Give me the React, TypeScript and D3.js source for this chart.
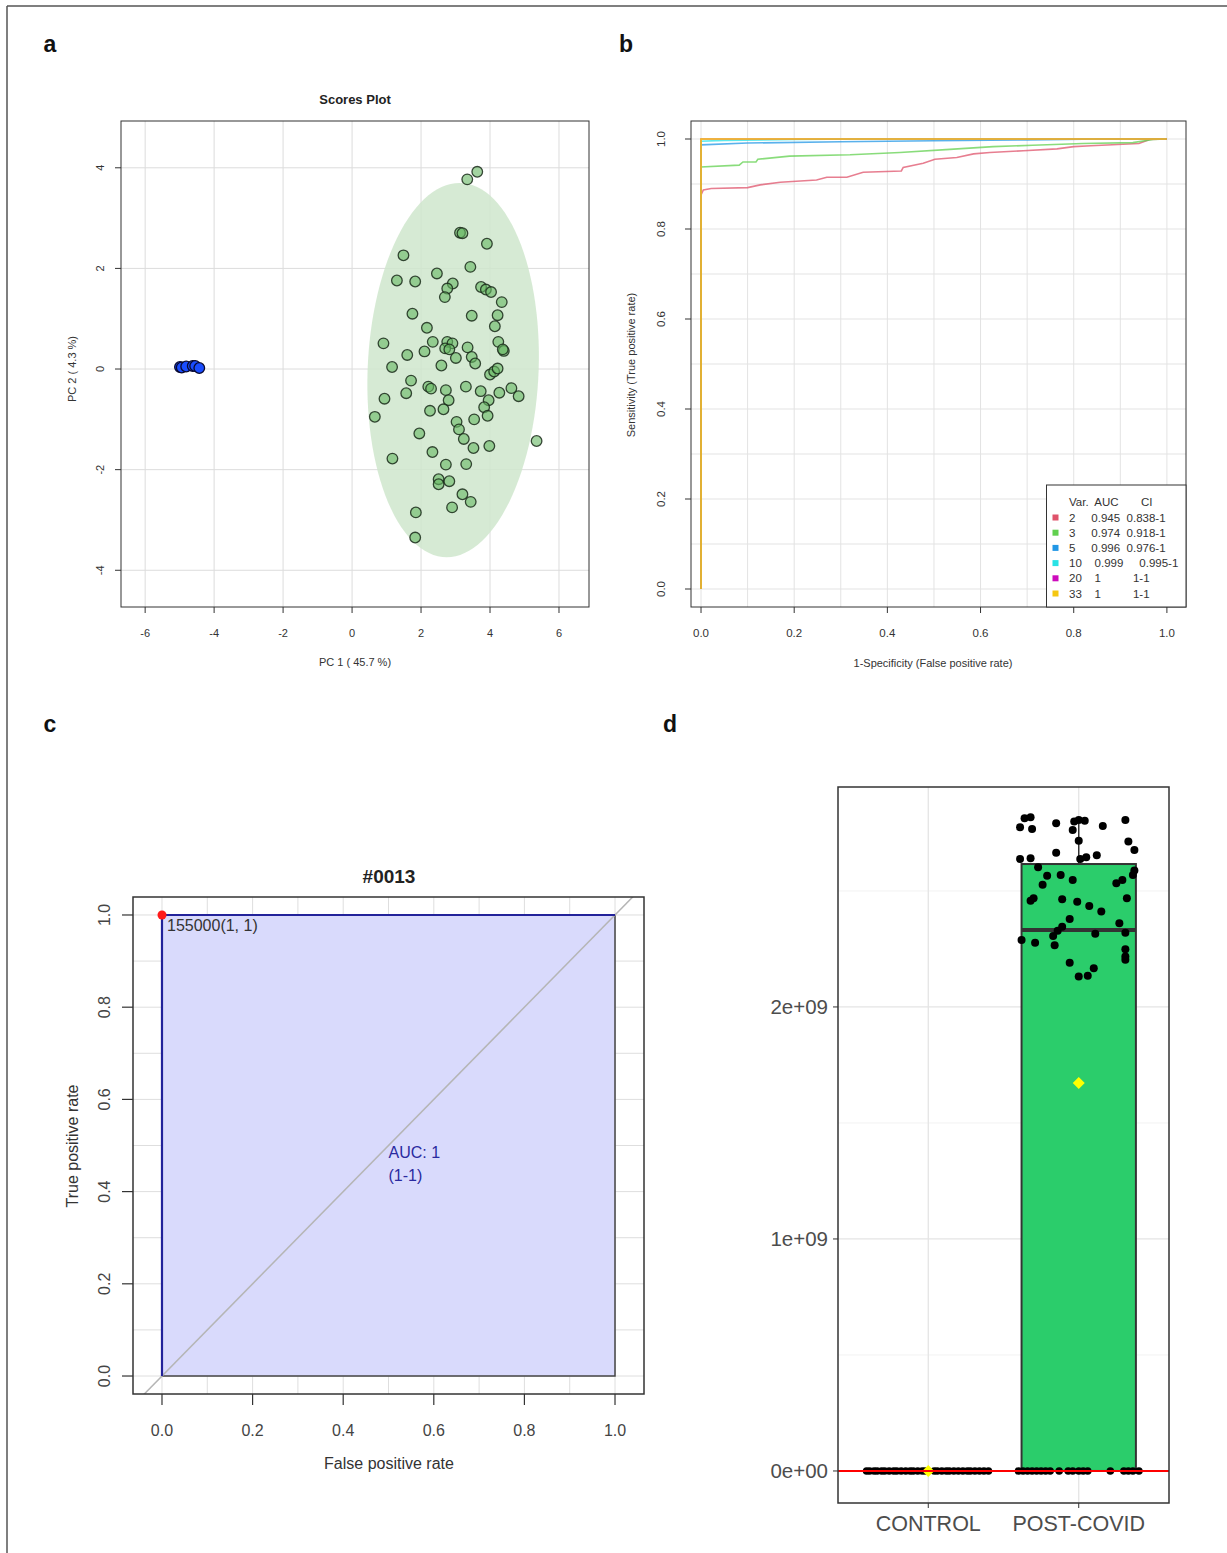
import React from 'react';
import * as d3 from 'd3';

const FONT = "'Liberation Sans', Arial, Helvetica, sans-serif";

// ---------- Panel a : PCA scores ----------
const pcaTicksX = [-6, -4, -2, 0, 2, 4, 6];
const pcaTicksY = [-4, -2, 0, 2, 4];
const controlScores: [number, number][] = [
  [-4.99, 0.04], [-4.94, 0.03], [-4.81, 0.05], [-4.62, 0.06], [-4.55, 0.06], [-4.43, 0.02],
];
const postCovidScores: [number, number][] = [
  [3.63, 3.92], [3.34, 3.77], [3.13, 2.71], [3.2, 2.7], [3.91, 2.49], [1.49, 2.26], [3.43, 2.03],
  [2.46, 1.9], [1.3, 1.76], [1.83, 1.74], [2.92, 1.7], [2.76, 1.6], [3.74, 1.63], [3.88, 1.58],
  [4.03, 1.53], [2.69, 1.43], [4.34, 1.33], [1.75, 1.1], [3.47, 1.06], [4.22, 1.07], [4.14, 0.85],
  [2.17, 0.82], [0.91, 0.51], [2.34, 0.54], [2.76, 0.54], [2.91, 0.51], [2.7, 0.41], [2.82, 0.39],
  [3.35, 0.43], [4.24, 0.54], [4.4, 0.36], [4.37, 0.39], [1.6, 0.28], [2.1, 0.35], [3.01, 0.22],
  [3.47, 0.24], [3.57, 0.11], [1.16, 0.04], [2.59, 0.07], [4.0, -0.11], [4.12, -0.05], [4.22, 0.01],
  [1.71, -0.23], [2.21, -0.35], [2.29, -0.39], [2.72, -0.42], [3.3, -0.35], [3.73, -0.44],
  [4.27, -0.47], [4.62, -0.38], [4.83, -0.54], [1.57, -0.48], [0.94, -0.59], [2.8, -0.62],
  [3.96, -0.62], [3.83, -0.76], [2.26, -0.83], [2.65, -0.8], [3.93, -0.93], [0.66, -0.95],
  [3.54, -1.0], [3.03, -1.05], [3.1, -1.2], [1.95, -1.28], [3.24, -1.39], [3.52, -1.57],
  [3.98, -1.53], [5.35, -1.43], [2.33, -1.65], [1.17, -1.78], [2.72, -1.9], [3.31, -1.89],
  [2.51, -2.19], [2.51, -2.29], [2.82, -2.23], [3.2, -2.49], [3.44, -2.64], [2.9, -2.75],
  [1.85, -2.85], [1.83, -3.35],
];
const ellipseCenter = [2.93, -0.02];
const ellipseRadii = [2.48, 3.72];

// ---------- Panel b : multivariate ROC ----------
const rocTicks = [0, 0.2, 0.4, 0.6, 0.8, 1.0];
const rocGrid = d3.range(0, 11).map((i) => i / 10);
const roc2: [number, number][] = [
  [0, 0], [0, 0.876], [0.005, 0.887], [0.022, 0.89], [0.1, 0.892], [0.127, 0.898], [0.17, 0.904],
  [0.248, 0.909], [0.27, 0.915], [0.313, 0.915], [0.348, 0.926], [0.43, 0.929], [0.434, 0.937],
  [0.477, 0.946], [0.502, 0.955], [0.549, 0.959], [0.585, 0.967], [0.62, 0.97], [0.692, 0.974],
  [0.764, 0.978], [0.8, 0.983], [0.837, 0.985], [0.94, 0.99], [0.963, 0.999], [1, 1],
];
const roc3: [number, number][] = [
  [0, 0], [0, 0.938], [0.082, 0.942], [0.09, 0.949], [0.118, 0.949], [0.122, 0.955], [0.19, 0.962],
  [0.32, 0.965], [0.427, 0.97], [0.534, 0.977], [0.627, 0.983], [0.712, 0.986], [0.82, 0.99],
  [0.927, 0.992], [0.97, 0.999], [1, 1],
];
const roc5: [number, number][] = [
  [0, 0], [0, 0.987], [0.1, 0.991], [0.3, 0.994], [0.5, 0.996], [0.7, 0.998], [0.86, 1], [1, 1],
];
const roc10: [number, number][] = [
  [0, 0], [0, 0.995], [0.05, 0.997], [0.2, 0.999], [0.35, 1], [1, 1],
];
const roc20: [number, number][] = [[0, 0], [0, 1], [1, 1]];
const roc33: [number, number][] = [[0, 0], [0, 1], [1, 1]];
const rocSeries = [roc2, roc3, roc5, roc10, roc20, roc33];
const rocColors = ['#DF536B', '#61D04F', '#2297E6', '#28E2E5', '#CD0BBC', '#F5C710'];
const legendHeader = 'Var.  AUC       CI';
const legendRows = [
  '2     0.945  0.838-1',
  '3     0.974  0.918-1',
  '5     0.996  0.976-1',
  '10    0.999     0.995-1',
  '20    1          1-1',
  '33    1          1-1',
];

// ---------- Panel c : single ROC ----------
const rocSingle: [number, number][] = [[0, 0], [0, 1], [1, 1]];
const rocSingleArea: [number, number][] = [[0, 0], [0, 1], [1, 1], [1, 0]];
const bestThreshold = '155000(1, 1)';
const aucText = ['AUC: 1', '(1-1)'];

// ---------- Panel d : box plot ----------
const groups = ['CONTROL', 'POST-COVID'];
const yTicksD = [0, 1, 2];
const yTickLabelsD = ['0e+00', '1e+09', '2e+09'];
const yMinorD = [0.5, 1.5, 2.5];
const boxQ1 = [0, 0];
const boxMedian = [0, 2.332];
const boxQ3 = [0, 2.616];
const boxWhiskerHigh = [0, 2.79];
const groupMean = [0, 1.672];
const controlJitter = [
  -0.41, -0.39, -0.36, -0.34, -0.31, -0.29, -0.26, -0.23, -0.21, -0.18, -0.15, -0.12, -0.1, -0.07,
  -0.04, -0.02, 0.04, 0.06, 0.09, 0.12, 0.14, 0.17, 0.2, 0.23, 0.26, 0.28, 0.31, 0.34, 0.37, 0.4,
];
const controlValues = controlJitter.map(() => 0);
const postZeroJitter = [
  -0.4, -0.37, -0.34, -0.31, -0.28, -0.25, -0.22, -0.19, -0.13, -0.07, -0.04, 0.0, 0.03, 0.06,
  0.21, 0.3, 0.33, 0.36, 0.4,
];
const postHigh: [number, number][] = [
  [-0.36, 2.813], [-0.32, 2.818], [-0.39, 2.775], [-0.31, 2.767], [-0.15, 2.792], [-0.03, 2.799],
  [0.0, 2.806], [0.04, 2.803], [-0.04, 2.763], [0.16, 2.78], [0.31, 2.806], [0.0, 2.716],
  [0.33, 2.713], [0.37, 2.677], [-0.15, 2.665], [-0.39, 2.638], [-0.32, 2.641], [0.01, 2.638],
  [0.05, 2.645], [0.12, 2.654], [-0.27, 2.602], [-0.21, 2.565], [-0.12, 2.569], [-0.04, 2.547],
  [-0.24, 2.527], [0.25, 2.533], [0.29, 2.547], [0.37, 2.588], [0.36, 2.569], [-0.32, 2.458],
  [-0.3, 2.469], [-0.11, 2.464], [-0.01, 2.453], [0.07, 2.435], [0.15, 2.411], [0.32, 2.469],
  [-0.06, 2.379], [-0.11, 2.346], [-0.14, 2.328], [-0.17, 2.306], [0.27, 2.361], [0.31, 2.32],
  [-0.38, 2.289], [-0.29, 2.277], [-0.16, 2.266], [0.11, 2.315], [0.31, 2.249], [0.31, 2.217],
  [-0.06, 2.191], [0.1, 2.167], [0.06, 2.135], [0.0, 2.131], [0.31, 2.203],
];

function PanelA() {
  const x = d3.scaleLinear().domain([-6.7, 6.87]).range([121, 589]);
  const y = d3.scaleLinear().domain([-4.73, 4.93]).range([607, 121]);
  const [cx, cy] = ellipseCenter;
  const [rx, ry] = ellipseRadii;
  const ell = d3.range(0, 121).map((i) => {
    const t = (i / 120) * Math.PI * 2;
    const px = cx + rx * Math.cos(t) + 0.05 * ry * Math.sin(t);
    const py = cy + ry * Math.sin(t);
    return [x(px), y(py)] as [number, number];
  });
  const line = d3.line();
  return (
    <g fontFamily={FONT}>
      <text x={355} y={104} textAnchor="middle" fontSize={13} fontWeight="bold" fill="#222">Scores Plot</text>
      {pcaTicksX.map((t) => (
        <line key={'gx' + t} x1={x(t)} x2={x(t)} y1={121} y2={607} stroke="#dcdcdc" strokeWidth={1} />
      ))}
      {pcaTicksY.map((t) => (
        <line key={'gy' + t} x1={121} x2={589} y1={y(t)} y2={y(t)} stroke="#dcdcdc" strokeWidth={1} />
      ))}
      <path d={line(ell) + 'Z'} fill="#cfe6cc" fillOpacity={0.85} />
      {postCovidScores.map(([a, b], i) => (
        <circle key={'g' + i} cx={x(a)} cy={y(b)} r={5.3} fill="#66b863" fillOpacity={0.6} stroke="#1a2a1a" strokeOpacity={0.85} strokeWidth={1.3} />
      ))}
      {controlScores.map(([a, b], i) => (
        <circle key={'b' + i} cx={x(a)} cy={y(b)} r={5.3} fill="#1a4dff" stroke="#0a0a30" strokeWidth={1.3} />
      ))}
      <rect x={121} y={121} width={468} height={486} fill="none" stroke="#333" strokeWidth={1} />
      {pcaTicksX.map((t) => (
        <g key={'tx' + t}>
          <line x1={x(t)} x2={x(t)} y1={607} y2={613} stroke="#333" />
          <text x={x(t)} y={633} textAnchor="middle" dominantBaseline="central" fontSize={11} fill="#333">{t}</text>
        </g>
      ))}
      {pcaTicksY.map((t) => (
        <g key={'ty' + t}>
          <line x1={115} x2={121} y1={y(t)} y2={y(t)} stroke="#333" />
          <text transform={`translate(100,${y(t)}) rotate(-90)`} textAnchor="middle" dominantBaseline="central" fontSize={11} fill="#333">{t}</text>
        </g>
      ))}
      <text x={355} y={662} textAnchor="middle" dominantBaseline="central" fontSize={11} fill="#333">PC 1 ( 45.7 %)</text>
      <text transform="translate(72,369) rotate(-90)" textAnchor="middle" dominantBaseline="central" fontSize={11} fill="#333">PC 2 ( 4.3 %)</text>
    </g>
  );
}

function PanelB() {
  const x = d3.scaleLinear().domain([-0.0215, 1.041]).range([691, 1186]);
  const y = d3.scaleLinear().domain([-0.04, 1.04]).range([607, 121]);
  const line = d3.line<[number, number]>().x((d) => x(d[0])).y((d) => y(d[1]));
  const lx = 1046.5;
  const ly = 485;
  return (
    <g fontFamily={FONT}>
      {rocGrid.map((t) => (
        <g key={'g' + t}>
          <line x1={x(t)} x2={x(t)} y1={121} y2={607} stroke="#e3e3e3" />
          <line x1={691} x2={1186} y1={y(t)} y2={y(t)} stroke="#e3e3e3" />
        </g>
      ))}
      {rocSeries.map((s, i) => (
        <path key={'r' + i} d={line(s) || ''} fill="none" stroke={rocColors[i]} strokeOpacity={i === rocSeries.length - 1 ? 1 : 0.75} strokeWidth={1.6} />
      ))}
      <rect x={691} y={121} width={495} height={486} fill="none" stroke="#333" />
      {rocTicks.map((t) => (
        <g key={'t' + t}>
          <line x1={x(t)} x2={x(t)} y1={607} y2={613} stroke="#333" />
          <text x={x(t)} y={633} textAnchor="middle" dominantBaseline="central" fontSize={11.5} fill="#333">{t.toFixed(1)}</text>
          <line x1={685} x2={691} y1={y(t)} y2={y(t)} stroke="#333" />
          <text transform={`translate(661,${y(t)}) rotate(-90)`} textAnchor="middle" dominantBaseline="central" fontSize={11.5} fill="#333">{t.toFixed(1)}</text>
        </g>
      ))}
      <text x={933} y={663} textAnchor="middle" dominantBaseline="central" fontSize={11} fill="#333">1-Specificity (False positive rate)</text>
      <text transform="translate(631,365) rotate(-90)" textAnchor="middle" dominantBaseline="central" fontSize={11} fill="#333">Sensitivity (True positive rate)</text>
      <rect x={lx} y={ly} width={1186 - lx} height={607 - ly} fill="#fff" stroke="#333" />
      <text x={lx + 22.5} y={ly + 16.5} fontSize={11.5} fill="#333" dominantBaseline="central" style={{ whiteSpace: 'pre' }}>{legendHeader}</text>
      {legendRows.map((r, i) => (
        <g key={'l' + i}>
          <rect x={lx + 6} y={ly + 32.5 + i * 15.2 - 3} width={6} height={6} fill={rocColors[i]} />
          <text x={lx + 22.5} y={ly + 32.5 + i * 15.2} fontSize={11.5} fill="#333" dominantBaseline="central" style={{ whiteSpace: 'pre' }}>{r}</text>
        </g>
      ))}
    </g>
  );
}

function PanelC() {
  const x = d3.scaleLinear().domain([-0.064, 1.064]).range([133, 644]);
  const y = d3.scaleLinear().domain([-0.039, 1.039]).range([1394, 897]);
  const line = d3.line<[number, number]>().x((d) => x(d[0])).y((d) => y(d[1]));
  return (
    <g fontFamily={FONT}>
      <defs>
        <clipPath id="clipC">
          <rect x={133} y={897} width={511} height={497} />
        </clipPath>
      </defs>
      <text x={389} y={876} textAnchor="middle" dominantBaseline="central" fontSize={19} fontWeight="bold" fill="#222">#0013</text>
      {rocGrid.map((t) => (
        <g key={'g' + t}>
          <line x1={x(t)} x2={x(t)} y1={897} y2={1394} stroke="#dedede" />
          <line x1={133} x2={644} y1={y(t)} y2={y(t)} stroke="#dedede" />
        </g>
      ))}
      <path d={line(rocSingleArea) + 'Z'} fill="#d9dafc" stroke="#444" strokeWidth={1.5} />
      <line clipPath="url(#clipC)" x1={x(-0.1)} y1={y(-0.1)} x2={x(1.1)} y2={y(1.1)} stroke="#b5b5b5" strokeWidth={1.5} />
      <path d={line(rocSingle) || ''} fill="none" stroke="#22229a" strokeWidth={2.2} />
      <circle cx={x(0)} cy={y(1)} r={4.5} fill="#ff1a1a" />
      <text x={x(0) + 5} y={y(1) + 11} fontSize={16} fill="#333" dominantBaseline="central">{bestThreshold}</text>
      <text x={x(0.5)} y={y(0.484)} fontSize={16} fill="#2a2aa0" dominantBaseline="central">{aucText[0]}</text>
      <text x={x(0.5)} y={y(0.436)} fontSize={16} fill="#2a2aa0" dominantBaseline="central">{aucText[1]}</text>
      <rect x={133} y={897} width={511} height={497} fill="none" stroke="#333" strokeWidth={1.5} />
      {rocTicks.map((t) => (
        <g key={'t' + t}>
          <line x1={x(t)} x2={x(t)} y1={1394} y2={1405} stroke="#333" strokeWidth={1.2} />
          <text x={x(t)} y={1430} textAnchor="middle" dominantBaseline="central" fontSize={16} fill="#444">{t.toFixed(1)}</text>
          <line x1={122} x2={133} y1={y(t)} y2={y(t)} stroke="#333" strokeWidth={1.2} />
          <text transform={`translate(104,${y(t)}) rotate(-90)`} textAnchor="middle" dominantBaseline="central" fontSize={16} fill="#444">{t.toFixed(1)}</text>
        </g>
      ))}
      <text x={389} y={1463} textAnchor="middle" dominantBaseline="central" fontSize={16} fill="#333">False positive rate</text>
      <text transform="translate(72,1146) rotate(-90)" textAnchor="middle" dominantBaseline="central" fontSize={16} fill="#333">True positive rate</text>
    </g>
  );
}

function PanelD() {
  const y = d3.scaleLinear().domain([-0.138, 2.948]).range([1503, 787]);
  const x = d3.scaleLinear().domain([0.4, 2.6]).range([838, 1169]);
  const bw = 0.38;
  const diamond = (cx: number, cy: number, s: number) => `M${cx},${cy - s}L${cx + s},${cy}L${cx},${cy + s}L${cx - s},${cy}Z`;
  return (
    <g fontFamily={FONT}>
      {yMinorD.map((t) => (
        <line key={'m' + t} x1={838} x2={1169} y1={y(t)} y2={y(t)} stroke="#f2f2f2" />
      ))}
      {yTicksD.map((t) => (
        <line key={'M' + t} x1={838} x2={1169} y1={y(t)} y2={y(t)} stroke="#e4e4e4" strokeWidth={1.3} />
      ))}
      {groups.map((g, i) => (
        <line key={'v' + g} x1={x(i + 1)} x2={x(i + 1)} y1={787} y2={1503} stroke="#e4e4e4" strokeWidth={1.3} />
      ))}
      {groups.map((g, i) => (
        <g key={'box' + g}>
          {boxQ3[i] > boxQ1[i] && (
            <>
              <line x1={x(i + 1)} x2={x(i + 1)} y1={y(boxQ3[i])} y2={y(boxWhiskerHigh[i])} stroke="#333" strokeWidth={1.5} />
              <rect x={x(i + 1 - bw)} y={y(boxQ3[i])} width={x(i + 1 + bw) - x(i + 1 - bw)} height={y(boxQ1[i]) - y(boxQ3[i])} fill="#2bcd6b" stroke="#333" strokeWidth={2} />
              <line x1={x(i + 1 - bw)} x2={x(i + 1 + bw)} y1={y(boxMedian[i])} y2={y(boxMedian[i])} stroke="#333" strokeWidth={4} />
            </>
          )}
        </g>
      ))}
      {controlJitter.map((j, k) => (
        <circle key={'c' + k} cx={x(1 + j)} cy={y(controlValues[k])} r={3.8} fill="#000" />
      ))}
      {postZeroJitter.map((j, k) => (
        <circle key={'pz' + k} cx={x(2 + j)} cy={y(0)} r={3.8} fill="#000" />
      ))}
      {postHigh.map(([j, v], k) => (
        <circle key={'ph' + k} cx={x(2 + j)} cy={y(v)} r={4} fill="#000" />
      ))}
      {groupMean.map((m, i) => (
        <path key={'mean' + i} d={diamond(x(i + 1), y(m), 6)} fill="#ffff00" />
      ))}
      <line x1={838} x2={1169} y1={y(0)} y2={y(0)} stroke="#ff0000" strokeWidth={2} />
      <rect x={838} y={787} width={331} height={716} fill="none" stroke="#333" strokeWidth={1.5} />
      {yTicksD.map((t, i) => (
        <g key={'yt' + t}>
          <line x1={833} x2={838} y1={y(t)} y2={y(t)} stroke="#333" />
          <text x={828} y={y(t)} textAnchor="end" dominantBaseline="central" fontSize={20.5} fill="#4d4d4d">{yTickLabelsD[i]}</text>
        </g>
      ))}
      {groups.map((g, i) => (
        <g key={'xt' + g}>
          <line x1={x(i + 1)} x2={x(i + 1)} y1={1503} y2={1508} stroke="#333" />
          <text x={x(i + 1)} y={1524} textAnchor="middle" dominantBaseline="central" fontSize={21.5} fill="#4d4d4d">{g}</text>
        </g>
      ))}
    </g>
  );
}

export default function App() {
  return (
    <svg width={1227} height={1553} style={{ position: 'absolute', left: 0, top: 0, background: '#fff' }}>
      <rect x={0} y={0} width={1227} height={1553} fill="#fff" />
      <line x1={7} y1={6} x2={1227} y2={6} stroke="#555" strokeWidth={1.5} />
      <line x1={7} y1={6} x2={7} y2={1553} stroke="#555" strokeWidth={1.5} />
      <g fontFamily={FONT} fontWeight="bold" fontSize={23} fill="#111">
        <text x={50} y={44} textAnchor="middle" dominantBaseline="central">a</text>
        <text x={626} y={44} textAnchor="middle" dominantBaseline="central">b</text>
        <text x={50} y={724} textAnchor="middle" dominantBaseline="central">c</text>
        <text x={670} y={724} textAnchor="middle" dominantBaseline="central">d</text>
      </g>
      <PanelA />
      <PanelB />
      <PanelC />
      <PanelD />
    </svg>
  );
}
